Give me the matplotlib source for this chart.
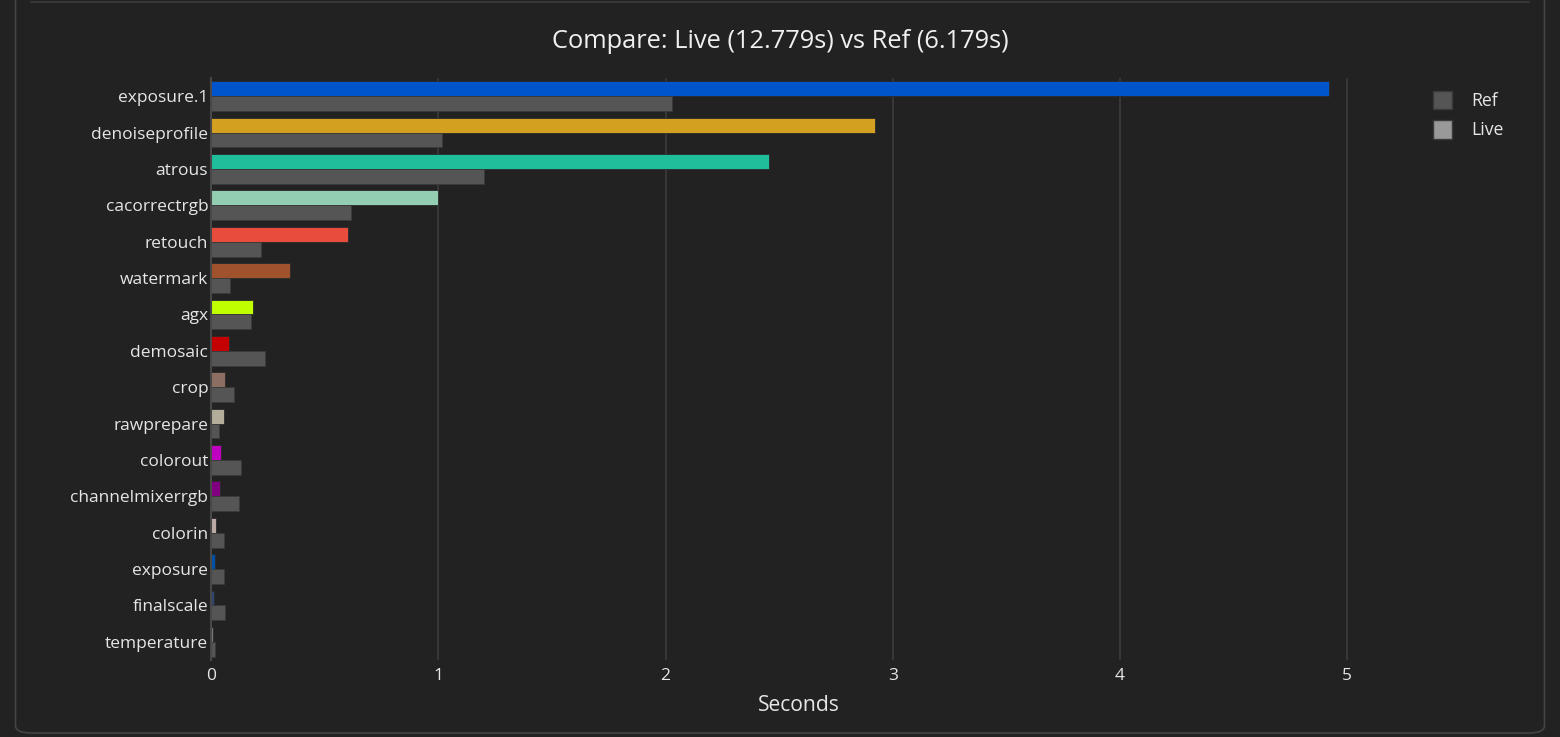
import matplotlib.pyplot as plt
from matplotlib.patches import FancyBboxPatch, Patch
from matplotlib.lines import Line2D

plt.rcParams['font.family'] = ['Open Sans', 'DejaVu Sans']

# data, top to bottom
modules = ["exposure.1", "denoiseprofile", "atrous", "cacorrectrgb", "retouch",
           "watermark", "agx", "demosaic", "crop", "rawprepare", "colorout",
           "channelmixerrgb", "colorin", "exposure", "finalscale", "temperature"]
live_s = [4.92, 2.92, 2.456, 1.0, 0.603, 0.348, 0.185, 0.079, 0.062, 0.058,
          0.042, 0.040, 0.020, 0.016, 0.012, 0.007]
ref_s = [2.03, 1.017, 1.20, 0.616, 0.220, 0.084, 0.176, 0.238, 0.101, 0.037,
         0.132, 0.125, 0.059, 0.057, 0.062, 0.018]
live_colors = ["#0055cc", "#d4a020", "#20bf9c", "#93ceb2", "#e84c3d",
               "#a0522d", "#bfff00", "#c40000", "#8d6e63", "#b3ae9a",
               "#c000c0", "#800080", "#bcaaa4", "#0050a8", "#2c4470", "#7a7a7a"]
live_total = 12.779
ref_total = 6.179

BG = "#222222"
TXT = "#e6e6e6"

fig = plt.figure(figsize=(15.6, 7.37), dpi=100, facecolor=BG)
W, H = 1560, 737

# card frame (top edge sits above the image)
frame = FancyBboxPatch((15.5 / W, 4 / H), 1529 / W, (H + 30) / H,
                       boxstyle="round,pad=0,rounding_size=0.01",
                       transform=fig.transFigure, facecolor="none",
                       edgecolor="#444444", linewidth=1.2, zorder=5)
fig.patches.append(frame)
fig.lines.append(Line2D([31 / W, 1529 / W], [1 - 2 / H, 1 - 2 / H],
                        transform=fig.transFigure, color="#3c3c3c", lw=1.2))

ax = fig.add_axes([211 / W, 1 - 660 / H, 1175 / W, 582 / H])
ax.set_facecolor(BG)

y = list(range(len(modules)))
h = 0.41
off = 0.205
ax.barh([v - off for v in y], live_s, height=h, color=live_colors,
        edgecolor="#2a2a2a", linewidth=0.6, zorder=3)
ax.barh([v + off for v in y], ref_s, height=h, color="#555555",
        edgecolor="#3a3a3a", linewidth=0.6, zorder=3)

ax.set_ylim(len(modules) - 0.5, -0.5)
ax.set_xlim(0, 5.17)
ax.set_yticks(y)
ax.set_yticklabels(modules)
ax.set_xticks([0, 1, 2, 3, 4, 5])
ax.set_xticklabels(["0", "1", "2", "3", "4", "5"])
ax.tick_params(axis="both", length=0, colors=TXT, labelsize=12.5)
ax.tick_params(axis="y", pad=2)
ax.tick_params(axis="x", pad=6)
ax.grid(axis="x", color="#3c3c3c", linewidth=1.2, zorder=0)
for s in ["top", "right", "bottom"]:
    ax.spines[s].set_visible(False)
ax.spines["left"].set_color("#484848")
ax.spines["left"].set_linewidth(1.5)
ax.spines["left"].set_zorder(4)

ax.set_xlabel("Seconds", color=TXT, fontsize=15.2, labelpad=8)
fig.text(780 / W, 1 - 42 / H,
         f"Compare: Live ({live_total:.3f}s) vs Ref ({ref_total:.3f}s)",
         ha="center", va="center", color="#f0f0f0", fontsize=18.3)

handles = [Patch(facecolor="#555555", edgecolor="#3a3a3a", label="Ref"),
           Patch(facecolor="#999999", edgecolor="#3a3a3a", label="Live")]
leg = fig.legend(handles=handles, loc="upper left",
                 bbox_to_anchor=(1417 / W, 1 - 75 / H), frameon=False,
                 handlelength=1.1, handleheight=1.2, handletextpad=1.1,
                 labelspacing=0.6, fontsize=12.7)
for t in leg.get_texts():
    t.set_color(TXT)

fig.savefig("out.png", dpi=100, facecolor=BG)
